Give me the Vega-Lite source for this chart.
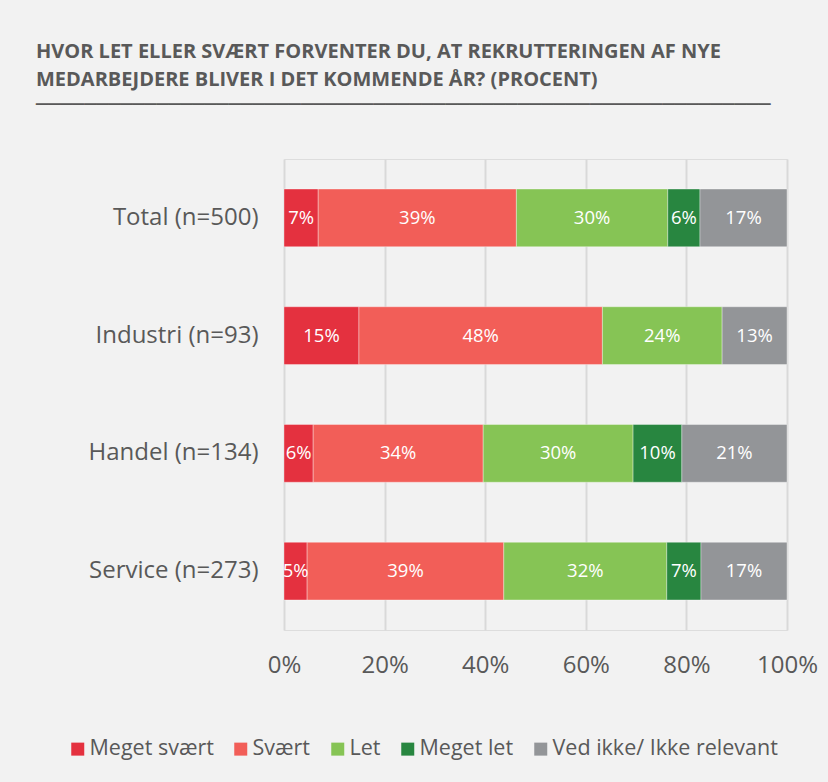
{
  "$schema": "https://vega.github.io/schema/vega-lite/v6.json",
  "width": 503,
  "height": 471,
  "autosize": {"type": "none"},
  "padding": {"left": 284, "top": 159, "right": 41, "bottom": 152},
  "background": "#f2f2f2",
  "title": {
    "text": ["HVOR LET ELLER SVÆRT FORVENTER DU, AT REKRUTTERINGEN AF NYE", "MEDARBEJDERE BLIVER I DET KOMMENDE ÅR? (PROCENT)"],
    "subtitle": "─────────────────────────────────────────────────────────────",
    "anchor": "start",
    "frame": "group",
    "dx": -248,
    "offset": 44,
    "font": "Open Sans",
    "fontSize": 20,
    "fontWeight": "bold",
    "color": "#595959",
    "lineHeight": 28,
    "subtitleFont": "DejaVu Sans Mono",
    "subtitleFontSize": 20,
    "subtitleColor": "#595959",
    "subtitlePadding": 5
  },
  "data": {
    "values": [
      {"group": "Total (n=500)", "answer": "Meget svært", "order": 1, "share": 0.068},
      {"group": "Total (n=500)", "answer": "Svært", "order": 2, "share": 0.394},
      {"group": "Total (n=500)", "answer": "Let", "order": 3, "share": 0.301},
      {"group": "Total (n=500)", "answer": "Meget let", "order": 4, "share": 0.064},
      {"group": "Total (n=500)", "answer": "Ved ikke/ Ikke relevant", "order": 5, "share": 0.173},
      {"group": "Industri (n=93)", "answer": "Meget svært", "order": 1, "share": 0.149},
      {"group": "Industri (n=93)", "answer": "Svært", "order": 2, "share": 0.484},
      {"group": "Industri (n=93)", "answer": "Let", "order": 3, "share": 0.238},
      {"group": "Industri (n=93)", "answer": "Ved ikke/ Ikke relevant", "order": 5, "share": 0.129},
      {"group": "Handel (n=134)", "answer": "Meget svært", "order": 1, "share": 0.058},
      {"group": "Handel (n=134)", "answer": "Svært", "order": 2, "share": 0.338},
      {"group": "Handel (n=134)", "answer": "Let", "order": 3, "share": 0.298},
      {"group": "Handel (n=134)", "answer": "Meget let", "order": 4, "share": 0.097},
      {"group": "Handel (n=134)", "answer": "Ved ikke/ Ikke relevant", "order": 5, "share": 0.209},
      {"group": "Service (n=273)", "answer": "Meget svært", "order": 1, "share": 0.046},
      {"group": "Service (n=273)", "answer": "Svært", "order": 2, "share": 0.391},
      {"group": "Service (n=273)", "answer": "Let", "order": 3, "share": 0.324},
      {"group": "Service (n=273)", "answer": "Meget let", "order": 4, "share": 0.068},
      {"group": "Service (n=273)", "answer": "Ved ikke/ Ikke relevant", "order": 5, "share": 0.171}
    ]
  },
  "encoding": {
    "y": {
      "field": "group",
      "type": "nominal",
      "sort": ["Total (n=500)", "Industri (n=93)", "Handel (n=134)", "Service (n=273)"],
      "scale": {"paddingInner": 0.51, "paddingOuter": 0.255},
      "axis": {
        "title": null,
        "ticks": false,
        "domain": false,
        "labelPadding": 26,
        "labelFont": "Open Sans",
        "labelFontSize": 24,
        "labelColor": "#595959"
      }
    },
    "x": {
      "field": "share",
      "type": "quantitative",
      "stack": "zero",
      "scale": {"domain": [0, 1], "nice": false},
      "axis": {
        "title": null,
        "format": ".0%",
        "values": [0, 0.2, 0.4, 0.6, 0.8, 1],
        "ticks": false,
        "domain": false,
        "grid": true,
        "gridColor": "#d9d9d9",
        "gridWidth": 2,
        "labelPadding": 23,
        "labelFont": "Open Sans",
        "labelFontSize": 24,
        "labelColor": "#595959",
        "labelFlush": false
      }
    },
    "order": {"field": "order", "type": "quantitative"}
  },
  "layer": [
    {
      "mark": {"type": "bar", "stroke": "#ffffff", "strokeOpacity": 0.35, "strokeWidth": 1},
      "encoding": {
        "color": {
          "field": "answer",
          "type": "nominal",
          "sort": ["Meget svært", "Svært", "Let", "Meget let", "Ved ikke/ Ikke relevant"],
          "scale": {
            "domain": ["Meget svært", "Svært", "Let", "Meget let", "Ved ikke/ Ikke relevant"],
            "range": ["#e4313f", "#f25e58", "#86c455", "#288640", "#939598"]
          },
          "legend": {
            "title": null,
            "orient": "none",
            "legendX": -217,
            "legendY": 579,
            "direction": "horizontal",
            "symbolType": "square",
            "symbolSize": 169,
            "symbolStrokeWidth": 0,
            "symbolOpacity": 1,
            "labelFont": "Open Sans",
            "labelFontSize": 21.5,
            "labelColor": "#595959",
            "labelOffset": 1,
            "columnPadding": 16,
            "labelLimit": 300
          }
        }
      }
    },
    {
      "mark": {"type": "text", "color": "#ffffff", "font": "Open Sans", "fontSize": 18.5, "baseline": "middle"},
      "encoding": {
        "x": {"field": "share", "type": "quantitative", "stack": "zero", "bandPosition": 0.5},
        "text": {"field": "share", "type": "quantitative", "format": ".0%"}
      }
    }
  ]
}
